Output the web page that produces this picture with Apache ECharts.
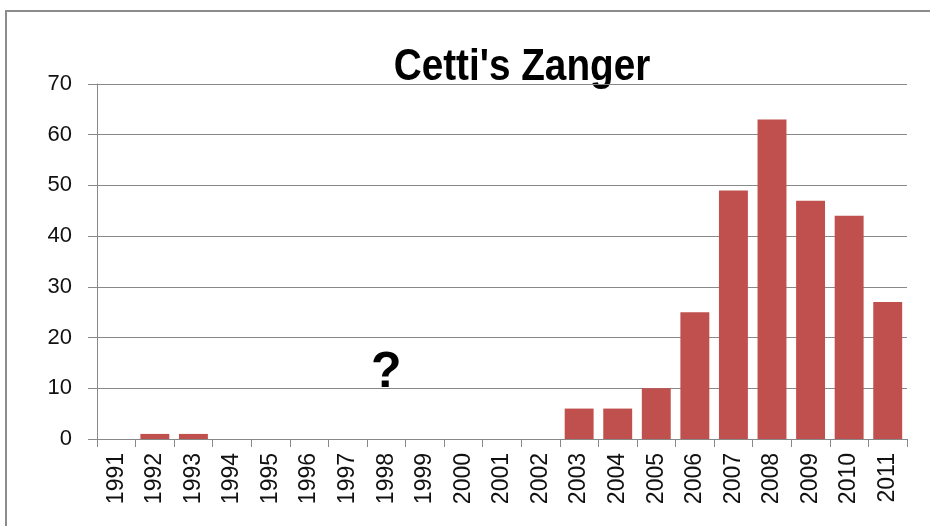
<!DOCTYPE html>
<html><head><meta charset="utf-8">
<script src="https://cdn.jsdelivr.net/npm/echarts@6/dist/echarts.min.js"></script>
<style>html,body{margin:0;padding:0;background:#fff}#c{width:930px;height:526px}</style>
</head><body><div id="c"></div>
<script>
const years = ['1991','1992','1993','1994','1995','1996','1997','1998','1999','2000','2001','2002','2003','2004','2005','2006','2007','2008','2009','2010','2011'];
const counts = [0,1,1,0,0,0,0,0,0,0,0,0,6,6,10,25,49,63,47,44,27];
const yTicks = {min:0, max:70, interval:10};
const note = {text:'?', year:'1998', value:13};
const titleText = "Cetti's Zanger";

const chart = echarts.init(document.getElementById('c'), null, {renderer:'canvas'});
chart.setOption({
  animation:false,
  backgroundColor:'#fff',
  graphic:[
    {type:'rect', shape:{x:6, y:11, width:940, height:540}, style:{fill:'none', stroke:'#8c8c8c', lineWidth:2}, silent:true},
    {type:'text', x:522, y:45, scaleX:0.86, silent:true,
      style:{text:titleText, textAlign:'center', textVerticalAlign:'top', fill:'#000',
        font:'bold 45px "Liberation Sans", sans-serif'}}
  ],
  grid:{left:97, right:23, top:84, bottom:87},
  xAxis:{type:'category', data:years,
    axisLine:{lineStyle:{color:'#888', width:1}},
    axisTick:{show:true, length:8, alignWithLabel:false, lineStyle:{color:'#888'}},
    axisLabel:{rotate:90, interval:0, fontSize:23, color:'#111', fontFamily:'"Liberation Sans",sans-serif', margin:14}},
  yAxis:{type:'value', min:yTicks.min, max:yTicks.max, interval:yTicks.interval,
    axisLine:{show:true, lineStyle:{color:'#888'}},
    axisTick:{show:true, length:9, lineStyle:{color:'#888'}},
    splitLine:{lineStyle:{color:'#888', width:1}},
    axisLabel:{fontSize:22, color:'#111', fontFamily:'"Liberation Sans",sans-serif', margin:25}},
  series:[{type:'bar', data:counts, barCategoryGap:'25%', itemStyle:{color:'#C0504D'},
    markPoint:{symbol:'circle', symbolSize:0, silent:true,
      data:[{coord:[note.year, note.value], value:note.text}],
      label:{show:true, position:'inside', formatter:note.text, fontSize:50, fontWeight:'bold', color:'#000', fontFamily:'"Liberation Sans",sans-serif'}}}]
});
</script></body></html>
